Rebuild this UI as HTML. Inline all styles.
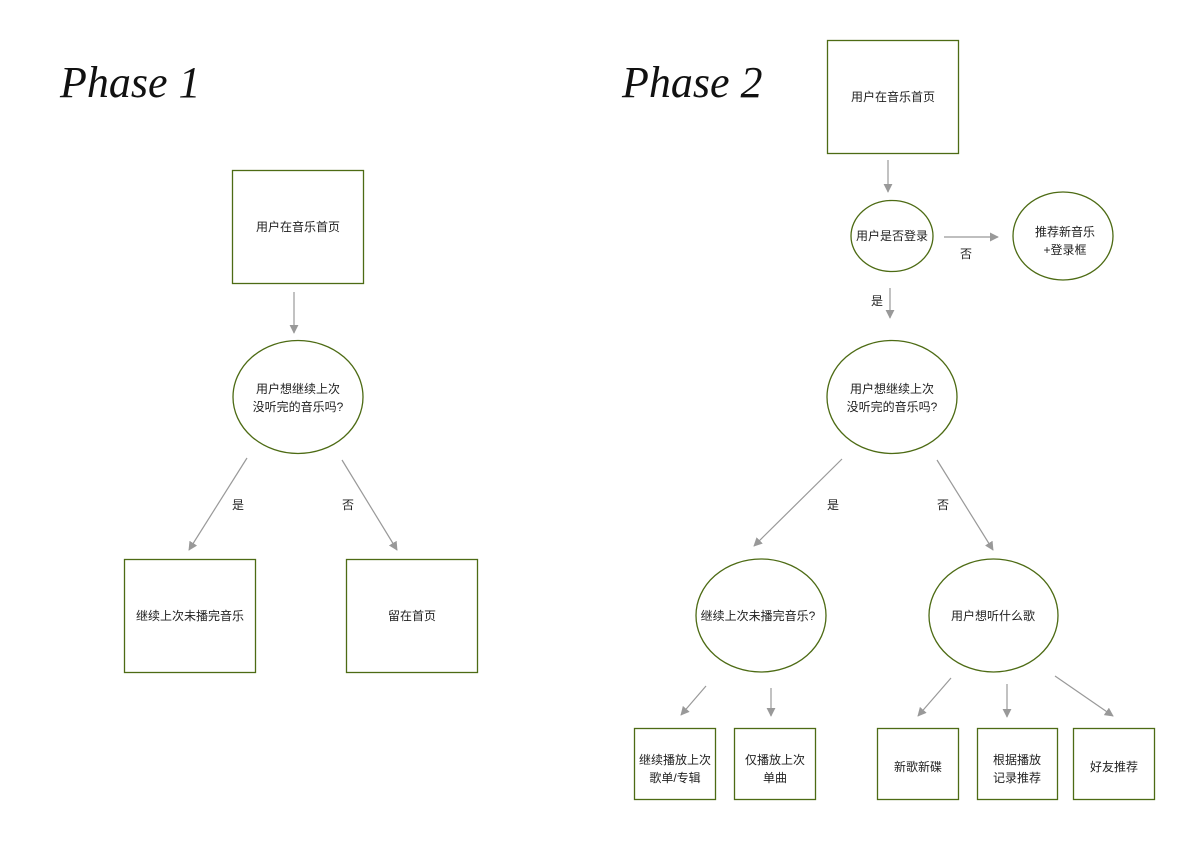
<!DOCTYPE html>
<html><head><meta charset="utf-8"><style>
html,body{margin:0;padding:0;background:#fff;}
svg{display:block;}
text{font-family:"Liberation Sans","Noto Sans CJK SC",sans-serif;font-size:12px;fill:#222;text-anchor:middle;}
.t{font-family:"Liberation Serif",serif;font-style:italic;font-size:44px;text-anchor:start;fill:#111;}
.n{fill:#fff;stroke:#4d6b14;stroke-width:1.3;}
.a{stroke:#999;stroke-width:1.2;fill:none;marker-end:url(#ar);}
</style></head><body>
<svg width="1190" height="842" viewBox="0 0 1190 842" xmlns="http://www.w3.org/2000/svg">
<defs><marker id="ar" viewBox="0 0 10 10" refX="9" refY="5" markerWidth="9" markerHeight="9" markerUnits="userSpaceOnUse" orient="auto"><path d="M0,0L10,5L0,10z" fill="#999"/></marker></defs>
<text class="t" x="60" y="97">Phase 1</text>
<text class="t" x="622" y="97">Phase 2</text>

<!-- Phase 1 -->
<rect class="n" x="232.5" y="170.5" width="131" height="113"/>
<text x="298" y="231">用户在音乐首页</text>
<line class="a" x1="294" y1="292" x2="294" y2="333"/>
<ellipse class="n" cx="298" cy="397" rx="65" ry="56.5"/>
<text x="298" y="393">用户想继续上次</text>
<text x="298" y="411">没听完的音乐吗?</text>
<line class="a" x1="247" y1="458" x2="189" y2="550"/>
<line class="a" x1="342" y1="460" x2="397" y2="550"/>
<text x="238" y="509">是</text>
<text x="348" y="509">否</text>
<rect class="n" x="124.5" y="559.5" width="131" height="113"/>
<text x="190" y="620">继续上次未播完音乐</text>
<rect class="n" x="346.5" y="559.5" width="131" height="113"/>
<text x="412" y="620">留在首页</text>

<!-- Phase 2 -->
<rect class="n" x="827.5" y="40.5" width="131" height="113"/>
<text x="893" y="101">用户在音乐首页</text>
<line class="a" x1="888" y1="160" x2="888" y2="192"/>
<ellipse class="n" cx="892" cy="236" rx="41" ry="35.5"/>
<text x="892" y="240">用户是否登录</text>
<line class="a" x1="944" y1="237" x2="998" y2="237"/>
<text x="966" y="258">否</text>
<ellipse class="n" cx="1063" cy="236" rx="50" ry="44"/>
<text x="1065" y="236">推荐新音乐</text>
<text x="1065" y="254">+登录框</text>
<text x="877" y="305">是</text>
<line class="a" x1="890" y1="288" x2="890" y2="318"/>
<ellipse class="n" cx="892" cy="397" rx="65" ry="56.5"/>
<text x="892" y="393">用户想继续上次</text>
<text x="892" y="411">没听完的音乐吗?</text>
<line class="a" x1="842" y1="459" x2="754" y2="546"/>
<line class="a" x1="937" y1="460" x2="993" y2="550"/>
<text x="833" y="509">是</text>
<text x="943" y="509">否</text>
<ellipse class="n" cx="761" cy="615.5" rx="65" ry="56.5"/>
<text x="758" y="620">继续上次未播完音乐?</text>
<ellipse class="n" cx="993.5" cy="615.5" rx="64.5" ry="56.5"/>
<text x="993" y="620">用户想听什么歌</text>
<line class="a" x1="706" y1="686" x2="681" y2="715"/>
<line class="a" x1="771" y1="688" x2="771" y2="716"/>
<line class="a" x1="951" y1="678" x2="918" y2="716"/>
<line class="a" x1="1007" y1="684" x2="1007" y2="717"/>
<line class="a" x1="1055" y1="676" x2="1113" y2="716"/>
<rect class="n" x="634.5" y="728.5" width="81" height="71"/>
<text x="675" y="764">继续播放上次</text>
<text x="675" y="782">歌单/专辑</text>
<rect class="n" x="734.5" y="728.5" width="81" height="71"/>
<text x="775" y="764">仅播放上次</text>
<text x="775" y="782">单曲</text>
<rect class="n" x="877.5" y="728.5" width="81" height="71"/>
<text x="918" y="771">新歌新碟</text>
<rect class="n" x="977.5" y="728.5" width="80" height="71"/>
<text x="1017" y="764">根据播放</text>
<text x="1017" y="782">记录推荐</text>
<rect class="n" x="1073.5" y="728.5" width="81" height="71"/>
<text x="1114" y="771">好友推荐</text>
</svg>
</body></html>
